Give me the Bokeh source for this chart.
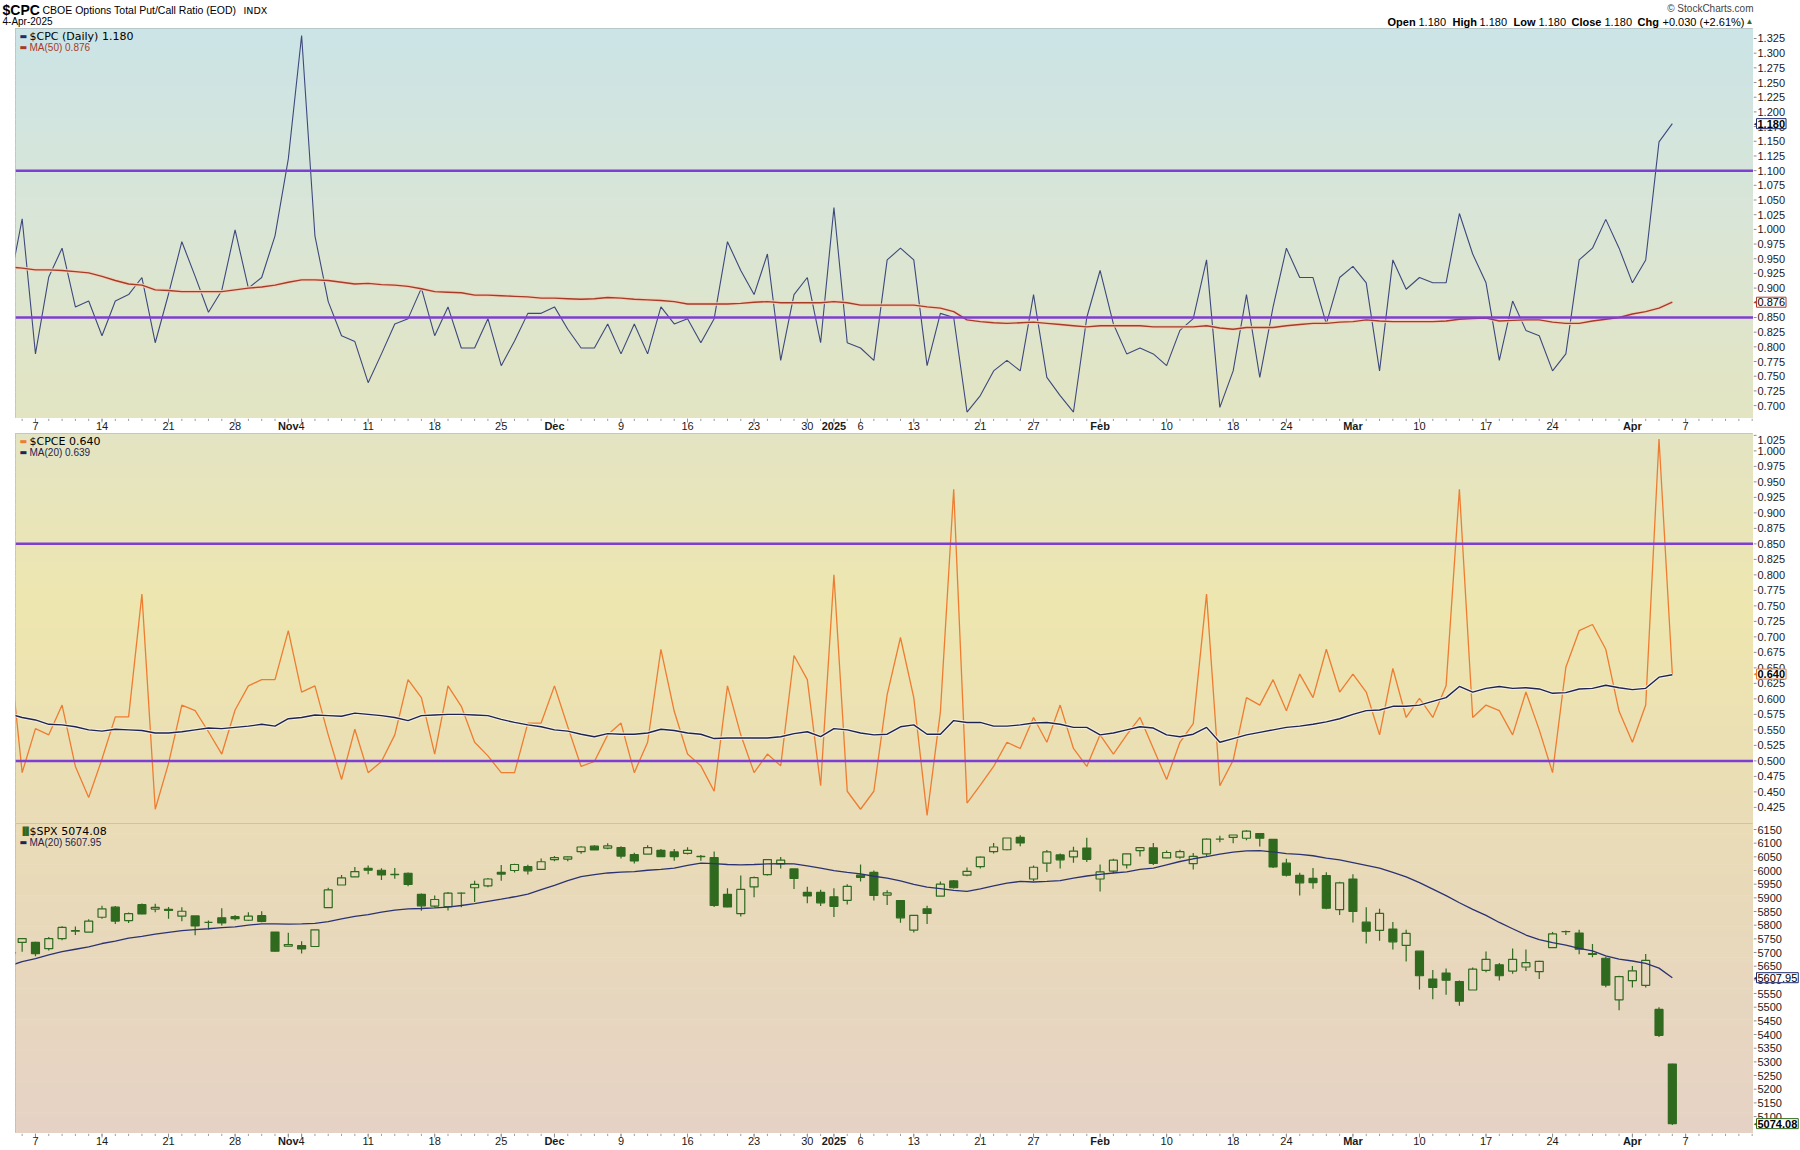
import numpy as np
import pandas as pd
from bokeh.plotting import figure
from bokeh.models import ColumnDataSource, Range1d, Label, Span
from bokeh.layouts import column, row
from bokeh.embed import file_html
from bokeh.resources import INLINE
from bokeh.core.properties import value

# ---------------- data ----------------
holidays = ["2024-11-28", "2024-12-25", "2025-01-01", "2025-01-09", "2025-01-20", "2025-02-17"]
all_days = [d.strftime("%Y-%m-%d") for d in pd.bdate_range("2024-10-03", "2025-04-14")
            if d.strftime("%Y-%m-%d") not in holidays]
last_date = "2025-04-04"
dates = all_days[:all_days.index(last_date) + 1]
pos = {d: i for i, d in enumerate(all_days)}

tick_dates = ["2024-10-07", "2024-10-14", "2024-10-21", "2024-10-28", "2024-11-01", "2024-11-04",
              "2024-11-11", "2024-11-18", "2024-11-25", "2024-12-02", "2024-12-09", "2024-12-16",
              "2024-12-23", "2024-12-30", "2025-01-02", "2025-01-06", "2025-01-13", "2025-01-21",
              "2025-01-27", "2025-02-03", "2025-02-10", "2025-02-18", "2025-02-24", "2025-03-03",
              "2025-03-10", "2025-03-17", "2025-03-24", "2025-04-01", "2025-04-07"]
tick_labels = ["7", "14", "21", "28", "Nov", "4", "11", "18", "25", "Dec", "9", "16", "23", "30",
               "2025", "6", "13", "21", "27", "Feb", "10", "18", "24", "Mar", "10", "17", "24", "Apr", "7"]
bold_labels = ["Nov", "Dec", "2025", "Feb", "Mar", "Apr"]

cpc = [0.90, 1.018, 0.788, 0.919, 0.968, 0.868, 0.878, 0.819, 0.878, 0.889,
       0.918, 0.807, 0.89, 0.979, 0.92, 0.859, 0.896, 0.999, 0.90, 0.918,
       0.989, 1.12, 1.33, 0.989, 0.877, 0.819, 0.809, 0.739, 0.788, 0.839,
       0.848, 0.90, 0.819, 0.868, 0.798, 0.798, 0.848, 0.768, 0.81, 0.857,
       0.857, 0.868, 0.83, 0.798, 0.798, 0.839, 0.788, 0.839, 0.788, 0.868,
       0.839, 0.848, 0.807, 0.848, 0.979, 0.93, 0.889, 0.958, 0.777, 0.889,
       0.918, 0.807, 1.037, 0.807, 0.798, 0.777, 0.948, 0.968, 0.948, 0.768,
       0.857, 0.85, 0.689, 0.717, 0.759, 0.777, 0.759, 0.889, 0.748, 0.717,
       0.689, 0.85, 0.93, 0.839, 0.788, 0.798, 0.788, 0.768, 0.828, 0.848,
       0.948, 0.697, 0.759, 0.889, 0.748, 0.868, 0.968, 0.918, 0.918, 0.839,
       0.918, 0.937, 0.909, 0.759, 0.948, 0.898, 0.918, 0.909, 0.909, 1.027,
       0.958, 0.909, 0.777, 0.878, 0.828, 0.819, 0.759, 0.788, 0.948, 0.968,
       1.017, 0.968, 0.909, 0.948, 1.149, 1.18]
cpc_ma50 = [0.936, 0.934, 0.931, 0.931, 0.930, 0.928, 0.926, 0.920, 0.913, 0.907,
            0.905, 0.897, 0.896, 0.894, 0.894, 0.894, 0.894, 0.897, 0.900, 0.902,
            0.905, 0.910, 0.914, 0.914, 0.913, 0.910, 0.907, 0.908, 0.906, 0.905,
            0.903, 0.899, 0.894, 0.893, 0.892, 0.888, 0.888, 0.887, 0.886, 0.885,
            0.883, 0.883, 0.882, 0.881, 0.882, 0.884, 0.883, 0.881, 0.880, 0.879,
            0.877, 0.873, 0.873, 0.873, 0.873, 0.874, 0.876, 0.877, 0.875, 0.875,
            0.875, 0.875, 0.877, 0.875, 0.871, 0.871, 0.871, 0.871, 0.871, 0.868,
            0.866, 0.860, 0.846, 0.843, 0.841, 0.840, 0.841, 0.842, 0.840, 0.838,
            0.836, 0.834, 0.836, 0.836, 0.836, 0.836, 0.834, 0.834, 0.834, 0.834,
            0.836, 0.832, 0.830, 0.833, 0.833, 0.833, 0.836, 0.838, 0.840, 0.840,
            0.842, 0.843, 0.846, 0.844, 0.843, 0.843, 0.843, 0.843, 0.844, 0.847,
            0.848, 0.849, 0.844, 0.845, 0.846, 0.846, 0.842, 0.840, 0.840, 0.844,
            0.847, 0.850, 0.856, 0.860, 0.866, 0.876]
cpc_levels = [1.10, 0.85]
cpc_ticks = [0.700, 0.725, 0.750, 0.775, 0.800, 0.825, 0.850, 0.875, 0.900, 0.925, 0.950, 0.975,
             1.000, 1.025, 1.050, 1.075, 1.100, 1.125, 1.150, 1.175, 1.200, 1.225, 1.250, 1.275,
             1.300, 1.325]

cpce = [0.69, 0.481, 0.552, 0.542, 0.590, 0.491, 0.441, 0.503, 0.571, 0.571,
        0.769, 0.422, 0.496, 0.590, 0.581, 0.547, 0.511, 0.582, 0.621, 0.631,
        0.631, 0.710, 0.611, 0.621, 0.542, 0.470, 0.551, 0.481, 0.499, 0.542,
        0.631, 0.602, 0.511, 0.621, 0.588, 0.530, 0.508, 0.481, 0.481, 0.561,
        0.561, 0.621, 0.555, 0.491, 0.499, 0.542, 0.561, 0.481, 0.530, 0.680,
        0.580, 0.511, 0.492, 0.451, 0.621, 0.542, 0.481, 0.511, 0.492, 0.670,
        0.631, 0.460, 0.800, 0.451, 0.422, 0.451, 0.607, 0.699, 0.602, 0.412,
        0.579, 0.938, 0.432, 0.461, 0.491, 0.530, 0.520, 0.570, 0.530, 0.590,
        0.520, 0.491, 0.542, 0.511, 0.542, 0.570, 0.520, 0.470, 0.530, 0.560,
        0.769, 0.460, 0.501, 0.602, 0.590, 0.631, 0.581, 0.640, 0.602, 0.680,
        0.611, 0.640, 0.611, 0.542, 0.649, 0.570, 0.601, 0.570, 0.621, 0.938,
        0.570, 0.590, 0.581, 0.542, 0.611, 0.550, 0.481, 0.651, 0.710, 0.720,
        0.680, 0.580, 0.530, 0.590, 1.019, 0.640]
cpce_ma20 = [0.576, 0.570, 0.566, 0.559, 0.558, 0.555, 0.550, 0.548, 0.551, 0.550,
             0.549, 0.545, 0.545, 0.547, 0.550, 0.553, 0.552, 0.554, 0.556, 0.559,
             0.556, 0.568, 0.570, 0.574, 0.573, 0.572, 0.577, 0.575, 0.573, 0.570,
             0.565, 0.573, 0.574, 0.575, 0.575, 0.574, 0.573, 0.567, 0.562, 0.558,
             0.555, 0.550, 0.548, 0.543, 0.539, 0.544, 0.543, 0.543, 0.545, 0.551,
             0.549, 0.545, 0.543, 0.536, 0.537, 0.537, 0.537, 0.537, 0.539, 0.544,
             0.547, 0.539, 0.552, 0.550, 0.545, 0.542, 0.543, 0.555, 0.558, 0.543,
             0.543, 0.565, 0.562, 0.562, 0.556, 0.556, 0.558, 0.561, 0.562, 0.559,
             0.554, 0.554, 0.542, 0.545, 0.550, 0.555, 0.553, 0.542, 0.539, 0.543,
             0.554, 0.530, 0.536, 0.542, 0.546, 0.550, 0.554, 0.556, 0.559, 0.563,
             0.568, 0.575, 0.581, 0.582, 0.588, 0.588, 0.590, 0.596, 0.602, 0.620,
             0.611, 0.617, 0.620, 0.617, 0.618, 0.616, 0.609, 0.610, 0.616, 0.617,
             0.622, 0.618, 0.615, 0.617, 0.635, 0.639]
cpce_levels = [0.85, 0.50]
cpce_ticks = [0.425, 0.450, 0.475, 0.500, 0.525, 0.550, 0.575, 0.600, 0.625, 0.650, 0.675, 0.700,
              0.725, 0.750, 0.775, 0.800, 0.825, 0.850, 0.875, 0.900, 0.925, 0.950, 0.975, 1.000, 1.025]

spx_open = [5698, 5737, 5737, 5714, 5751, 5778, 5775, 5829, 5866, 5817,
            5875, 5859, 5858, 5833, 5834, 5810, 5827, 5831, 5818, 5835,
            5775, 5723, 5725, 5722, 5864, 5947, 5977, 6008, 6001, 5986,
            5990, 5913, 5870, 5868, 5917, 5937, 5944, 5993, 6000, 6014,
            6004, 6040, 6042, 6069, 6089, 6082, 6084, 6058, 6060, 6074,
            6068, 6063, 6052, 6047, 5913, 5842, 5940, 5985, 6024, 6006,
            5920, 5920, 5904, 5891, 5983, 5993, 5910, 5890, 5782, 5860,
            5906, 5962, 5983, 6014, 6069, 6076, 6121, 5969, 6027, 6057,
            6050, 6082, 5969, 5998, 6021, 6073, 6083, 6046, 6049, 6025,
            6061, 6115, 6121, 6118, 6135, 6114, 6027, 5982, 5971, 5981,
            5857, 5969, 5811, 5781, 5786, 5726, 5705, 5603, 5625, 5594,
            5563, 5635, 5655, 5632, 5647, 5630, 5718, 5776, 5771, 5696,
            5679, 5527, 5597, 5580, 5492, 5292]
spx_high = [5718, 5753, 5739, 5757, 5796, 5795, 5822, 5871, 5870, 5846,
            5879, 5878, 5867, 5866, 5834, 5817, 5862, 5837, 5847, 5851,
            5775, 5772, 5741, 5784, 5937, 5984, 6013, 6018, 6008, 6009,
            5993, 5916, 5909, 5921, 5920, 5963, 5973, 6020, 6025, 6021,
            6044, 6053, 6052, 6089, 6092, 6100, 6089, 6065, 6092, 6079,
            6079, 6085, 6057, 6070, 5935, 5982, 5978, 6040, 6049, 6006,
            5941, 5930, 5935, 5950, 6022, 6000, 5928, 5890, 5836, 5871,
            5960, 5965, 6011, 6051, 6101, 6119, 6129, 6018, 6075, 6062,
            6087, 6120, 6022, 6043, 6062, 6084, 6101, 6073, 6076, 6064,
            6117, 6127, 6130, 6147, 6135, 6114, 6043, 5992, 6009, 5994,
            5959, 5986, 5866, 5860, 5812, 5783, 5705, 5636, 5642, 5598,
            5645, 5704, 5662, 5715, 5711, 5670, 5775, 5781, 5783, 5731,
            5685, 5615, 5651, 5695, 5500, 5293]
spx_low = [5677, 5703, 5686, 5707, 5745, 5764, 5775, 5824, 5804, 5808,
           5840, 5847, 5824, 5814, 5763, 5784, 5799, 5817, 5815, 5811,
           5703, 5723, 5696, 5722, 5864, 5947, 5976, 5986, 5965, 5970,
           5942, 5853, 5865, 5854, 5866, 5885, 5939, 5963, 5993, 5985,
           6004, 6034, 6034, 6061, 6075, 6078, 6044, 6026, 6060, 6051,
           6036, 6059, 6036, 5867, 5866, 5832, 5902, 5982, 6007, 5932,
           5880, 5870, 5830, 5876, 5960, 5890, 5874, 5809, 5773, 5804,
           5906, 5934, 5979, 6007, 6062, 6074, 6089, 5962, 5995, 6007,
           6028, 6031, 5923, 5990, 6007, 6051, 6020, 6045, 6043, 6004,
           6051, 6103, 6100, 6111, 6088, 6009, 5978, 5909, 5933, 5858,
           5837, 5810, 5733, 5743, 5711, 5667, 5565, 5529, 5546, 5505,
           5563, 5628, 5598, 5622, 5632, 5603, 5718, 5764, 5694, 5683,
           5573, 5489, 5572, 5572, 5391, 5069]
spx_close = [5700, 5751, 5696, 5751, 5792, 5780, 5815, 5860, 5815, 5842,
             5841, 5865, 5854, 5851, 5797, 5810, 5808, 5824, 5833, 5814,
             5705, 5729, 5713, 5783, 5929, 5973, 5996, 6001, 5984, 5985,
             5949, 5871, 5894, 5917, 5917, 5949, 5969, 5987, 6022, 5999,
             6032, 6047, 6050, 6086, 6075, 6090, 6053, 6035, 6084, 6051,
             6051, 6074, 6051, 5872, 5867, 5931, 5974, 6040, 6038, 5971,
             5907, 5882, 5869, 5942, 5975, 5909, 5918, 5827, 5836, 5843,
             5950, 5937, 5997, 6049, 6086, 6119, 6101, 6012, 6068, 6039,
             6071, 6041, 5995, 6038, 6061, 6084, 6026, 6066, 6069, 6052,
             6115, 6115, 6130, 6144, 6118, 6013, 5983, 5955, 5956, 5862,
             5955, 5850, 5778, 5843, 5739, 5770, 5615, 5572, 5599, 5522,
             5639, 5675, 5615, 5675, 5663, 5668, 5768, 5777, 5712, 5693,
             5581, 5612, 5633, 5671, 5397, 5074.08]
spx_ma20 = [5650, 5667, 5678, 5691, 5703, 5712, 5721, 5733, 5742, 5753,
            5759, 5767, 5774, 5780, 5784, 5787, 5791, 5794, 5800, 5805,
            5805, 5804, 5805, 5807, 5813, 5823, 5832, 5839, 5848, 5855,
            5860, 5861, 5863, 5866, 5872, 5879, 5887, 5895, 5904, 5914,
            5930, 5946, 5963, 5978, 5985, 5991, 5994, 5996, 6001, 6004,
            6009, 6019, 6027, 6025, 6022, 6021, 6022, 6024, 6025, 6024,
            6017, 6009, 6000, 5993, 5988, 5979, 5972, 5962, 5949, 5939,
            5934, 5927, 5924, 5933, 5944, 5954, 5960, 5958, 5960, 5963,
            5972, 5980, 5986, 5991, 5995, 6004, 6009, 6021, 6033, 6043,
            6051, 6060, 6067, 6072, 6073, 6068, 6062, 6059, 6054, 6045,
            6039, 6029, 6019, 6009, 5993, 5977, 5956, 5932, 5908, 5882,
            5858, 5836, 5810, 5787, 5764, 5747, 5736, 5727, 5715, 5706,
            5688, 5676, 5669, 5660, 5643, 5607.95]
spx_ticks = [5100, 5150, 5200, 5250, 5300, 5350, 5400, 5450, 5500, 5550, 5600, 5650, 5700, 5750,
             5800, 5850, 5900, 5950, 6000, 6050, 6100, 6150]

# ---------------- layout constants ----------------
FW = 1738          # plot frame width
LB = 15            # left border
SW = 47            # right-hand scale column width
FONT = "Liberation Sans"
xr = Range1d(0.5, 131.1)
x = np.arange(len(dates))

NAVY = "#3d497c"
MA_RED = "#a63b28"
PURPLE = "#7c3fd2"
ORANGE = "#ee7d31"
GREEN = "#2f6a1f"
BORDER = "#a4adad"


def hex2rgb(h):
    return np.array([int(h[i:i + 2], 16) for i in (1, 3, 5)], dtype=float)


def gradient(p, y0, y1, stops, nb=60):
    bots, tops, cols = [], [], []
    fr = [s[0] for s in stops]
    cs = [hex2rgb(s[1]) for s in stops]
    for k in range(nb):
        f0, f1 = k / nb, (k + 1) / nb
        fm = (f0 + f1) / 2
        j = max(i for i in range(len(fr)) if fr[i] <= fm)
        j = min(j, len(fr) - 2)
        t = (fm - fr[j]) / (fr[j + 1] - fr[j])
        c = cs[j] * (1 - t) + cs[j + 1] * t
        cols.append("#%02x%02x%02x" % tuple(int(round(v)) for v in c))
        tops.append(y1 - (y1 - y0) * f0 + (y1 - y0) * 0.002)
        bots.append(y1 - (y1 - y0) * f1)
    p.quad(left=xr.start - 1, right=xr.end + 1, bottom=bots, top=tops,
           fill_color=cols, line_color=None, level="underlay")


def plain(fig):
    fig.xgrid.visible = False
    fig.ygrid.visible = False
    fig.border_fill_color = "white"
    return fig


def panel(h, y0, y1):
    p = figure(frame_width=FW, frame_height=h, x_range=xr, y_range=Range1d(y0, y1),
               output_backend="svg", toolbar_location=None, tools="",
               x_axis_location=None, y_axis_location=None,
               min_border_left=LB, min_border_right=0, min_border_top=0, min_border_bottom=0)
    plain(p)
    p.outline_line_color = BORDER
    p.outline_line_width = 1
    return p


def scale(p, ticks, fmt):
    s = figure(frame_width=SW, frame_height=p.frame_height, x_range=Range1d(0, SW),
               y_range=p.y_range, output_backend="svg", toolbar_location=None, tools="",
               x_axis_location=None, y_axis_location=None, min_border=0)
    plain(s)
    s.outline_line_color = None
    s.background_fill_color = "white"
    y0, y1 = p.y_range.start, p.y_range.end
    pad = 6.5 * (y1 - y0) / p.frame_height
    ly = [min(max(t, y0 + pad), y1 - pad) for t in ticks]
    s.segment(x0=0, y0=ticks, x1=3, y1=ticks, line_color="#8a9090", line_width=1)
    s.text(x=4, y=ly, text=[fmt % t for t in ticks], text_font=value(FONT),
           text_font_size="11px", text_color="#1a1a1a", text_baseline="middle")
    return s


def legend(p, rown, mark, text, mark_color, text_color, font="DejaVu Sans", size="11px"):
    yo = -7.5 - rown * 11.5
    p.add_layout(Label(x=xr.start, y=p.y_range.end, x_offset=4, y_offset=yo, text=mark,
                       text_color=mark_color, text_font="DejaVu Sans", text_font_size="8px",
                       text_baseline="middle"))
    p.add_layout(Label(x=xr.start, y=p.y_range.end, x_offset=14, y_offset=yo, text=text,
                       text_color=text_color, text_font=font, text_font_size=size,
                       text_baseline="middle"))


def value_box(s, yv, text, color, bold=False):
    s.add_layout(Label(x=0, y=yv, text="\u25C0", text_color=color, text_font="DejaVu Sans",
                       text_font_size="7px", text_baseline="middle"))
    s.add_layout(Label(x=3, y=yv, text=text, text_font=FONT, text_font_size="11px",
                       text_font_style="bold" if bold else "normal", text_color="#000",
                       text_baseline="middle", background_fill_color="white",
                       border_line_color=color, border_line_width=1, padding=1))


def strip(h, ylab):
    s = figure(frame_width=FW, frame_height=h, x_range=xr, y_range=Range1d(0, 1),
               output_backend="svg", toolbar_location=None, tools="",
               x_axis_location=None, y_axis_location=None,
               min_border_left=LB, min_border_right=SW, min_border_top=0, min_border_bottom=0)
    plain(s)
    s.outline_line_color = None
    s.background_fill_color = "white"
    dx = np.arange(len(all_days))
    s.segment(x0=dx, y0=1.0, x1=dx, y1=1.0 - 2.5 / h, line_color="#9aa0a0", line_width=1)
    tx = [pos[d] for d in tick_dates]
    s.segment(x0=tx, y0=1.0, x1=tx, y1=1.0 - 4.0 / h, line_color="#8a9090", line_width=1)
    nx = [t for t, l in zip(tx, tick_labels) if l not in bold_labels]
    nl = [l for l in tick_labels if l not in bold_labels]
    bx = [t for t, l in zip(tx, tick_labels) if l in bold_labels]
    bl = [l for l in tick_labels if l in bold_labels]
    s.text(x=nx, y=ylab, text=nl, text_font=value(FONT), text_font_size="11px",
           text_align="center", text_baseline="middle", text_color="#1a1a1a")
    s.text(x=bx, y=ylab, text=bl, text_font=value(FONT), text_font_size="11px",
           text_font_style="bold", text_align="center", text_baseline="middle", text_color="#1a1a1a")
    return s


# ---------------- header ----------------
HW, HH = 1800, 28
hdr = figure(frame_width=HW, frame_height=HH, x_range=Range1d(0, HW), y_range=Range1d(0, HH),
             output_backend="svg", toolbar_location=None, tools="",
             x_axis_location=None, y_axis_location=None, min_border=0)
hdr.frame_align = False
plain(hdr)
hdr.outline_line_color = None
hdr.background_fill_color = "white"


def htext(xp, yc, text, size, style="normal", color="#000", align="left", font=FONT):
    # yc: vertical centre of the text, in pixels from the top of the header
    hdr.add_layout(Label(x=xp, y=HH - yc, text=text, text_font=font, text_font_size=size,
                         text_font_style=style, text_color=color, text_align=align,
                         text_baseline="middle"))


htext(2, 9, "$CPC", "14px", "bold")
htext(42, 9.5, "CBOE Options Total Put/Call Ratio (EOD)", "10.5px")
htext(243, 9.5, "INDX", "9.5px", font="DejaVu Sans")
htext(2, 21, "4-Apr-2025", "10px")
htext(1753, 7.5, "\u00A9 StockCharts.com", "10px", color="#444", align="right")
quote = [("Open", True, 1387), ("1.180", False, 1418), ("High", True, 1452), ("1.180", False, 1479),
         ("Low", True, 1513), ("1.180", False, 1538), ("Close", True, 1571), ("1.180", False, 1604),
         ("Chg", True, 1637), ("+0.030 (+2.61%)", False, 1662)]
for t, b, xp in quote:
    htext(xp, 21, t, "11px", "bold" if b else "normal")
htext(1745, 20.5, "\u25B2", "8px", color="#2f6a1f")

# ---------------- panel 1: $CPC ----------------
p1 = panel(390, 0.678, 1.342)
gradient(p1, 0.678, 1.342, [(0.0, "#cbe4e6"), (0.45, "#d8e5d8"), (1.0, "#e3e5c2")])
p1.line(x, cpc, line_color=NAVY, line_width=1.1)
p1.line(x, cpc_ma50, line_color="#f2cfb8", line_width=3.5, line_alpha=0.9)
p1.line(x, cpc_ma50, line_color=MA_RED, line_width=1.4)
for lv in cpc_levels:
    p1.add_layout(Span(location=lv, dimension="width", line_color=PURPLE, line_width=2.5))
legend(p1, 0, "\u25AC", "$CPC (Daily) 1.180", "#1d2b6b", "#000")
legend(p1, 1, "\u25AC", "MA(50) 0.876", MA_RED, MA_RED, font=FONT, size="10px")
sc1 = scale(p1, cpc_ticks, "%.3f")
value_box(sc1, cpc[-1], "1.180", "#1d2b6b", bold=True)
value_box(sc1, cpc_ma50[-1], "0.876", "#b03a2e")

s1 = strip(15, 0.5)

# ---------------- panel 2: $CPCE ----------------
p2 = panel(390, 0.399, 1.028)
gradient(p2, 0.399, 1.028, [(0.0, "#e3e4c3"), (0.45, "#eee6af"), (1.0, "#e9dcb6")])
p2.line(x, cpce, line_color=ORANGE, line_width=1.3)
p2.line(x, cpce_ma20, line_color="#f6f1dc", line_width=3.5, line_alpha=0.9)
p2.line(x, cpce_ma20, line_color="#1e2352", line_width=1.4)
for lv in cpce_levels:
    p2.add_layout(Span(location=lv, dimension="width", line_color=PURPLE, line_width=2.5))
legend(p2, 0, "\u25AC", "$CPCE 0.640", ORANGE, "#000")
legend(p2, 1, "\u25AC", "MA(20) 0.639", "#1e2352", "#1e2352", font=FONT, size="10px")
sc2 = scale(p2, cpce_ticks, "%.3f")
value_box(sc2, cpce[-1], "0.640", ORANGE, bold=True)

# ---------------- panel 3: $SPX ----------------
p3 = panel(310, 5038, 6172)
gradient(p3, 5038, 6172, [(0.0, "#e9dcb6"), (1.0, "#e6d2c5")])
o = np.array(spx_open, dtype=float)
c = np.array(spx_close, dtype=float)
src = ColumnDataSource(dict(x=x, h=spx_high, l=spx_low, top=np.maximum(o, c), bot=np.minimum(o, c),
                            fa=np.where(c < o, 1.0, 0.0)))
p3.segment(x0="x", y0="h", x1="x", y1="top", source=src, line_color=GREEN, line_width=1.2)
p3.segment(x0="x", y0="bot", x1="x", y1="l", source=src, line_color=GREEN, line_width=1.2)
p3.vbar(x="x", width=0.6, top="top", bottom="bot", source=src, fill_color=GREEN, fill_alpha="fa",
        line_color=GREEN, line_width=1.2)
p3.line(x, spx_ma20, line_color="#2b3372", line_width=1.3)
legend(p3, 0, "\u2590\u258C", "$SPX 5074.08", GREEN, "#000")
legend(p3, 1, "\u25AC", "MA(20) 5607.95", "#1e2352", "#1e2352", font=FONT, size="10px")
sc3 = scale(p3, spx_ticks, "%d")
value_box(sc3, spx_ma20[-1], "5607.95", "#1d2b6b")
value_box(sc3, spx_close[-1], "5074.08", GREEN, bold=True)

s2 = strip(15, 0.5)

layout = column(hdr, row(p1, sc1, spacing=0), s1, row(p2, sc2, spacing=0),
                row(p3, sc3, spacing=0), s2, spacing=0)
open("out.html", "w").write(file_html(layout, INLINE))
